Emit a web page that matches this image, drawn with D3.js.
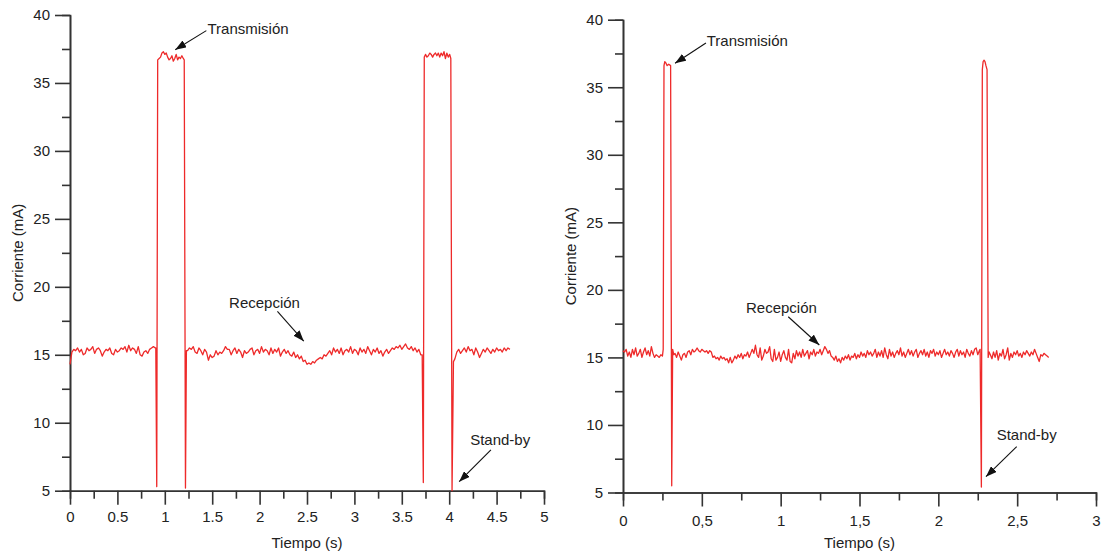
<!DOCTYPE html>
<html>
<head>
<meta charset="utf-8">
<script src="https://cdn.jsdelivr.net/npm/d3@7"></script>
<style>
  body { margin: 0; background: #fff; }
  svg { display: block; font-family: "Liberation Sans", Arial, sans-serif; }
</style>
</head>
<body>
<svg id="chart" width="1102" height="553"></svg>
<script>
// ---- left panel data (t in s, current in mA) ----
var leftStep = 0.02;
var leftBaseAStart = 0;
var leftBaseA = [14.3, 15.2, 15.4, 15.3, 15.5, 15.2, 15.4, 15.0, 15.1, 15.5,
  15.3, 15.4, 15.6, 15.1, 15.4, 15.5, 15.3, 14.9, 15.2, 15.4,
  15.3, 15.5, 15.1, 15.0, 15.4, 15.2, 15.3, 15.5, 15.4, 15.6,
  15.2, 15.7, 15.3, 15.5, 15.4, 15.1, 15.6, 15.0, 14.9, 15.2,
  15.3, 15.1, 15.4, 15.5, 15.6, 15.5];
var leftPulse1T = [0.905, 0.915, 0.925, 0.94, 0.955, 0.97, 0.985, 1.0, 1.015, 1.03, 1.045, 1.06,
  1.075, 1.09, 1.105, 1.12, 1.135, 1.15, 1.165, 1.18, 1.195, 1.205, 1.218, 1.228];
var leftPulse1I = [15.5, 5.3, 36.7, 36.8, 36.9, 37.2, 37.3, 37.1, 37.2, 36.9, 36.7, 36.8,
  37.0, 36.6, 36.8, 37.1, 36.7, 36.9, 36.8, 37.0, 36.8, 36.7, 5.2, 15.3];
var leftBaseBStart = 1.24;
var leftBaseB = [15.3, 15.5, 15.4, 15.6, 15.2, 15.1, 15.5, 15.3, 15.0, 15.4,
  15.2, 14.6, 15.0, 14.8, 14.9, 15.3, 15.0, 15.2, 15.1, 15.3,
  15.6, 15.4, 15.4, 15.0, 15.3, 15.5, 15.1, 15.4, 15.2, 14.8,
  15.3, 15.1, 15.2, 15.4, 15.5, 15.0, 15.3, 15.4, 15.1, 15.6,
  15.2, 15.4, 15.3, 15.0, 15.5, 15.1, 15.4, 15.2, 15.5, 14.9,
  15.2, 15.4, 15.1, 15.3, 15.0, 14.9, 15.2, 14.8, 15.0, 14.7,
  14.9, 14.5, 14.6, 14.3, 14.4, 14.3, 14.5, 14.4, 14.6, 14.7,
  14.8, 14.7, 15.0, 14.9, 15.1, 15.3, 15.0, 15.5, 15.2, 15.4,
  15.1, 15.5, 15.0, 15.3, 15.4, 15.2, 15.6, 15.1, 15.4, 15.3,
  15.0, 15.5, 15.2, 15.4, 15.1, 15.6, 15.3, 15.0, 15.4, 15.2,
  15.5, 15.1, 15.3, 14.9, 15.2, 15.4, 15.1, 15.3, 15.5, 15.4,
  15.6, 15.5, 15.7, 15.4, 15.6, 15.8, 15.5, 15.4, 15.6, 15.3,
  15.5, 15.2, 15.4, 15.0];
var leftPulse2T = [3.715, 3.727, 3.737, 3.75, 3.765, 3.78, 3.795, 3.81, 3.825, 3.84, 3.855, 3.87,
  3.885, 3.9, 3.915, 3.93, 3.945, 3.96, 3.975, 3.99, 4.005, 4.017, 4.03, 4.045];
var leftPulse2I = [15.0, 5.6, 36.9, 37.1, 36.9, 37.0, 37.2, 37.1, 36.9, 37.1, 37.2, 37.0,
  37.2, 36.9, 37.2, 37.0, 37.3, 36.8, 37.2, 36.9, 37.1, 36.8, 5.0, 14.5];
var leftBaseCStart = 4.06;
var leftBaseC = [14.7, 15.2, 15.4, 15.1, 15.3, 15.5, 15.2, 15.6, 15.3, 15.4,
  15.0, 15.5, 15.2, 14.8, 15.1, 15.4, 15.2, 15.5, 15.3, 15.1,
  15.4, 15.2, 15.5, 15.3, 15.4, 15.2, 15.5, 15.3, 15.5, 15.4];

// ---- right panel data ----
var rightStep = 0.01;
var rightBaseAStart = 0;
var rightBaseA = [15.5, 15.4, 15.6, 15.1, 15.4, 15.0, 15.6, 15.2, 15.7, 15.1,
  15.3, 15.6, 15.0, 15.4, 15.7, 15.2, 15.5, 15.1, 15.8, 15.3,
  15.0, 15.2, 15.1, 15.0, 15.2, 15.1];
var rightPulse1T = [0.255, 0.26, 0.265, 0.272, 0.28, 0.29, 0.302, 0.309, 0.315, 0.322];
var rightPulse1I = [15.6, 36.6, 36.9, 36.8, 36.6, 36.7, 36.6, 5.5, 15.6, 15.2];
var rightBaseBStart = 0.33;
var rightBaseB = [15.3, 15.0, 15.4, 15.1, 14.8, 15.2, 15.3, 15.0, 15.4, 15.5,
  15.2, 15.6, 15.4, 15.5, 15.7, 15.5, 15.4, 15.6, 15.5, 15.4,
  15.5, 15.3, 15.5, 15.4, 15.0, 15.1, 14.9, 15.0, 14.8, 15.1,
  14.9, 15.0, 14.8, 14.9, 14.6, 15.0, 14.6, 14.8, 15.1, 14.9,
  15.2, 15.0, 15.3, 14.9, 15.2, 15.1, 15.4, 15.0, 15.3, 15.6,
  15.3, 15.9, 15.2, 15.0, 15.7, 14.8, 15.1, 15.6, 15.3, 15.4,
  15.8, 14.9, 14.7, 15.6, 14.8, 15.0, 15.4, 14.7, 15.2, 15.5,
  15.0, 14.8, 15.6, 14.7, 14.6, 15.3, 14.9, 15.5, 15.1, 15.4,
  15.0, 15.6, 15.1, 15.3, 15.5, 14.9, 15.4, 15.2, 15.6, 15.1,
  15.4, 15.3, 15.6, 15.2, 15.5, 15.8, 15.6, 15.3, 15.5, 15.1,
  15.0, 14.8, 15.1, 14.7, 14.9, 14.6, 15.0, 14.8, 15.1, 14.9,
  15.2, 14.8, 15.1, 15.0, 15.3, 14.9, 15.2, 15.0, 15.4, 15.1,
  15.3, 15.0, 15.5, 15.2, 15.4, 15.1, 15.3, 15.6, 15.0, 15.4,
  15.1, 15.5, 15.0, 15.7, 15.2, 14.9, 15.6, 15.1, 15.4, 15.0,
  15.3, 15.5, 15.2, 15.7, 15.1, 15.4, 15.0, 15.3, 15.6, 15.2,
  15.5, 15.1, 15.4, 15.6, 15.0, 15.3, 15.5, 15.2, 15.6, 15.1,
  15.4, 15.0, 15.5, 15.3, 15.6, 15.1, 15.4, 15.2, 15.5, 15.0,
  15.3, 15.6, 15.2, 15.4, 15.1, 15.5, 15.3, 15.0, 15.4, 15.6,
  15.1, 15.5, 15.2, 15.4, 15.0, 15.6, 15.3, 15.1, 15.5, 15.2,
  15.6, 15.7, 15.2, 15.5];
var rightPulse2T = [2.265, 2.273, 2.279, 2.284, 2.29, 2.296, 2.302, 2.309, 2.316, 2.322];
var rightPulse2I = [15.6, 5.4, 36.3, 36.9, 37.0, 36.9, 36.6, 36.3, 15.0, 15.4];
var rightBaseCStart = 2.33;
var rightBaseC = [15.2, 14.9, 15.4, 15.0, 15.5, 14.8, 15.3, 15.1, 15.6, 14.9,
  15.2, 15.7, 14.8, 15.3, 15.0, 15.4, 15.2, 15.5, 15.1, 15.3,
  15.0, 15.4, 15.2, 15.5, 15.3, 15.1, 15.4, 15.2, 15.6, 15.3,
  15.0, 14.7, 15.2, 15.1, 15.3, 15.2, 15.1, 15.0];

// ---- ticks ----
var leftMajorX = [0, 0.5, 1, 1.5, 2, 2.5, 3, 3.5, 4, 4.5, 5];
var leftMinorX = [0.25, 0.75, 1.25, 1.75, 2.25, 2.75, 3.25, 3.75, 4.25, 4.75];
var rightMajorX = [0, 0.5, 1, 1.5, 2, 2.5, 3];
var rightMinorX = [0.25, 0.75, 1.25, 1.75, 2.25, 2.75];
var majorY = [5, 10, 15, 20, 25, 30, 35, 40];
var minorY = [7.5, 12.5, 17.5, 22.5, 27.5, 32.5, 37.5];

// ---- annotations: [label, textT, textI, fromT, fromI, tipT, tipI] ----
var leftNotes = [
  ["Transmisión", 1.45, 39.0, 1.438, 38.85, 1.11, 37.45],
  ["Recepción", 1.678, 18.83, 2.188, 18.19, 2.466, 16.0],
  ["Stand-by", 4.221, 8.74, 4.44, 8.0, 4.105, 5.66]
];
var rightNotes = [
  ["Transmisión", 0.531, 38.42, 0.526, 38.27, 0.33, 36.77],
  ["Recepción", 0.78, 18.68, 1.048, 18.01, 1.245, 15.92],
  ["Stand-by", 2.37, 9.25, 2.497, 8.39, 2.302, 6.17]
];

function seg(start, step, values) {
  return values.map(function(v, i) { return { t: start + i * step, v: v }; });
}
function pts(ts, vs) {
  return ts.map(function(t, i) { return { t: t, v: vs[i] }; });
}

var leftData = [].concat(
  seg(leftBaseAStart, leftStep, leftBaseA), pts(leftPulse1T, leftPulse1I),
  seg(leftBaseBStart, leftStep, leftBaseB), pts(leftPulse2T, leftPulse2I),
  seg(leftBaseCStart, leftStep, leftBaseC));
var rightData = [].concat(
  seg(rightBaseAStart, rightStep, rightBaseA), pts(rightPulse1T, rightPulse1I),
  seg(rightBaseBStart, rightStep, rightBaseB), pts(rightPulse2T, rightPulse2I),
  seg(rightBaseCStart, rightStep, rightBaseC));

var svg = d3.select("#chart");
var axisColor = "#333";
var textColor = "#222";
var lineColor = "#ee2a2a";

svg.append("defs").append("marker")
  .attr("id", "arrow")
  .attr("markerUnits", "userSpaceOnUse")
  .attr("markerWidth", 12).attr("markerHeight", 8)
  .attr("refX", 11).attr("refY", 4)
  .attr("orient", "auto")
  .append("path")
  .attr("d", "M0,0 L11,4 L0,8 Z")
  .attr("fill", "#111");

function drawPanel(p) {
  var x = d3.scaleLinear().domain([0, p.xMax]).range([p.left, p.right]);
  var y = d3.scaleLinear().domain([5, 40]).range([p.bottom, p.top]);
  var g = svg.append("g");

  // minor ticks first, then major axis with domain
  g.append("g")
    .attr("transform", "translate(0," + p.bottom + ")")
    .call(d3.axisBottom(x).tickValues(p.minorX).tickSize(8).tickFormat(""));
  g.append("g")
    .attr("transform", "translate(" + p.left + ",0)")
    .call(d3.axisLeft(y).tickValues(minorY).tickSize(8).tickFormat(""));
  g.append("g")
    .attr("transform", "translate(0," + p.bottom + ")")
    .call(d3.axisBottom(x).tickValues(p.majorX).tickSize(14).tickSizeOuter(0)
      .tickPadding(p.xPad).tickFormat(p.fmt));
  g.append("g")
    .attr("transform", "translate(" + p.left + ",0)")
    .call(d3.axisLeft(y).tickValues(majorY).tickSize(15).tickSizeOuter(0)
      .tickPadding(5).tickFormat(d3.format("d")));

  g.selectAll(".domain, .tick line")
    .attr("stroke", axisColor).attr("stroke-width", 1.6);
  g.selectAll(".tick text")
    .attr("fill", textColor).attr("font-size", 15)
    .attr("font-family", "Liberation Sans, Arial, sans-serif");

  // axis titles
  g.append("text")
    .attr("x", (p.left + p.right) / 2).attr("y", 548)
    .attr("text-anchor", "middle")
    .attr("font-size", 15).attr("fill", textColor)
    .text("Tiempo (s)");
  g.append("text")
    .attr("transform", "translate(" + (p.left - 47) + "," + ((p.top + p.bottom) / 2) + ") rotate(-90)")
    .attr("text-anchor", "middle")
    .attr("font-size", 15).attr("fill", textColor)
    .text("Corriente (mA)");

  // trace
  var line = d3.line()
    .x(function(d) { return x(d.t); })
    .y(function(d) { return y(d.v); });
  g.append("path")
    .datum(p.data)
    .attr("d", line)
    .attr("fill", "none")
    .attr("stroke", lineColor)
    .attr("stroke-width", 1.3)
    .attr("stroke-linejoin", "round");

  // annotations
  p.notes.forEach(function(n) {
    g.append("text")
      .attr("x", x(n[1])).attr("y", y(n[2]))
      .attr("dy", "0.35em")
      .attr("font-size", 15).attr("fill", textColor)
      .text(n[0]);
    g.append("line")
      .attr("x1", x(n[3])).attr("y1", y(n[4]))
      .attr("x2", x(n[5])).attr("y2", y(n[6]))
      .attr("stroke", "#111").attr("stroke-width", 1.1)
      .attr("marker-end", "url(#arrow)");
  });
}

drawPanel({
  left: 70, right: 544, top: 15, bottom: 490.7, xMax: 5,
  majorX: leftMajorX, minorX: leftMinorX, xPad: 7,
  fmt: function(d) { return String(d); },
  data: leftData, notes: leftNotes
});
drawPanel({
  left: 623, right: 1096, top: 19.7, bottom: 492.5, xMax: 3,
  majorX: rightMajorX, minorX: rightMinorX, xPad: 9,
  fmt: function(d) { return String(d).replace(".", ","); },
  data: rightData, notes: rightNotes
});
</script>
</body>
</html>
